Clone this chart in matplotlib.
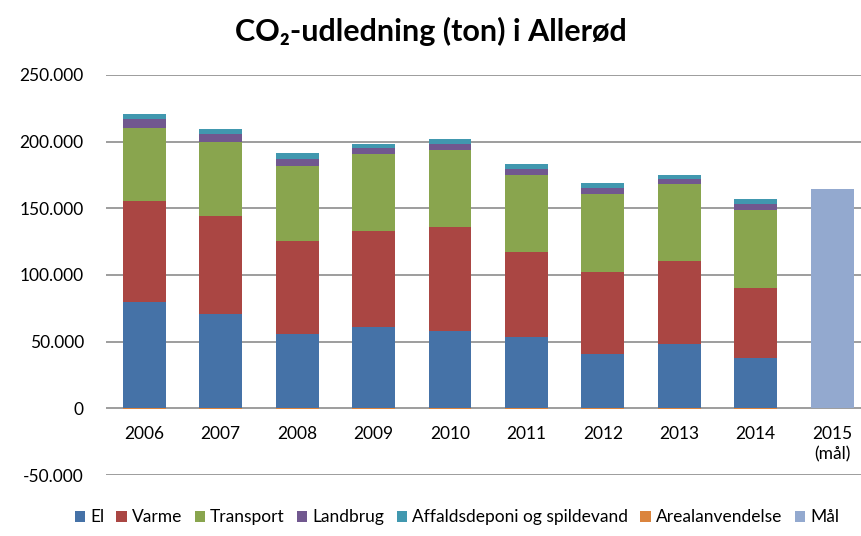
"""CO2-udledning i Allerød, stablede søjler pr. sektor (2006-2014) + mål for 2015."""
import matplotlib.pyplot as plt
import numpy as np

years = ["2006", "2007", "2008", "2009", "2010", "2011", "2012", "2013", "2014", "2015\n(mål)"]

# tons (2015 only has the target)
el = [80000, 71000, 55700, 61200, 58000, 53700, 40500, 48200, 38000, 0]
varme = [75500, 73000, 69800, 72000, 78200, 63800, 61700, 62000, 52000, 0]
transport = [55000, 55500, 56200, 57500, 57800, 57700, 58800, 58300, 59000, 0]
landbrug = [6200, 6500, 5500, 4300, 4200, 4300, 4200, 3500, 4000, 0]
affald = [3800, 3300, 4500, 3200, 3500, 3500, 3500, 3200, 3700, 0]
arealanvendelse = [-600, -600, -600, -600, -600, -600, -600, -600, -600, 0]
maal = [0, 0, 0, 0, 0, 0, 0, 0, 0, 164200]

series = [
    ("El", el, "#4572A7"),
    ("Varme", varme, "#AA4643"),
    ("Transport", transport, "#89A54E"),
    ("Landbrug", landbrug, "#71588F"),
    ("Affaldsdeponi og spildevand", affald, "#4198AF"),
]

FONT = ["Lato", "DejaVu Sans"]
plt.rcParams["font.family"] = FONT

fig = plt.figure(figsize=(8.62, 5.36), dpi=100)
ax = fig.add_axes([0.123, 0.1138, 0.877, 0.7463])

x = np.arange(len(years))
width = 0.56
bottom = np.zeros(len(years))
handles = []
for name, vals, color in series:
    vals = np.array(vals, dtype=float)
    h = ax.bar(x, vals, width, bottom=bottom, color=color, label=name, zorder=3)
    bottom += vals
    handles.append(h)

h_areal = ax.bar(x, arealanvendelse, width, color="#DB843D", label="Arealanvendelse", zorder=3)
h_maal = ax.bar(x, maal, width, color="#93A9CF", label="Mål", zorder=3)
handles += [h_areal, h_maal]

ax.set_xlim(-0.5, 9.39)
ax.set_ylim(-50000, 250000)
ticks = np.arange(-50000, 250001, 50000)
ax.set_yticks(ticks)
ax.set_yticklabels([f"{t:,}".replace(",", ".") for t in ticks], fontsize=12.5)
ax.yaxis.grid(True, color="#8c8c8c", linewidth=1.2, zorder=0)
ax.tick_params(axis="y", length=0, pad=16)

for side in ["top", "right", "left"]:
    ax.spines[side].set_visible(False)
ax.spines["bottom"].set_position(("data", 0))
ax.spines["bottom"].set_visible(False)
ax.set_xticks(x)
ax.set_xticklabels(years, fontsize=12.5, linespacing=1.3)
ax.tick_params(axis="x", length=0, pad=13)

fig.suptitle("CO₂-udledning (ton) i Allerød", x=0.5, y=0.968, fontsize=22,
             fontweight="bold")

fig.legend(handles=handles, loc="center", bbox_to_anchor=(0.53, 0.035), ncol=7,
           frameon=False, fontsize=12.5, handlelength=0.6, handleheight=0.6,
           handletextpad=0.3, columnspacing=0.7)

fig.savefig("out.png", dpi=100)
